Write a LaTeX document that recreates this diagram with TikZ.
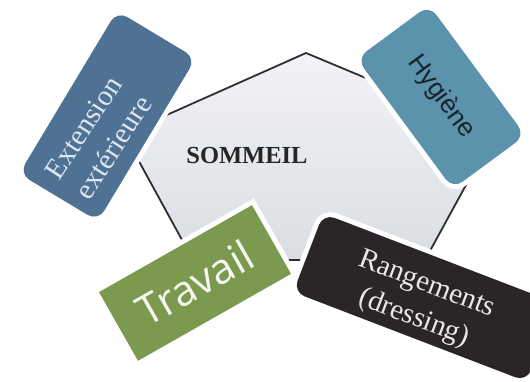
\documentclass[tikz,border=0pt]{standalone}
\usepackage{fontspec}
\setmainfont{Liberation Serif}
\newfontfamily\hygfont{Liberation Sans}
\newfontfamily\travfont{Open Sans}
\definecolor{extblue}{RGB}{79,114,148}
\definecolor{hygblue}{RGB}{91,147,172}
\definecolor{travgreen}{RGB}{123,154,80}
\definecolor{rangdark}{RGB}{42,38,40}
\definecolor{pentedge}{RGB}{45,45,50}
\definecolor{penttop}{RGB}{242,243,245}
\definecolor{pentbot}{RGB}{218,222,227}
\definecolor{exttext}{RGB}{222,230,240}
\definecolor{hygtext}{RGB}{25,35,45}
\definecolor{travtext}{RGB}{245,248,240}
\definecolor{rangtext}{RGB}{232,232,232}
\tikzset{
  pent/.style={draw=pentedge, line width=1.8pt, line join=miter, top color=penttop, bottom color=pentbot},
  tile/.style={inner sep=0pt, outer sep=0pt, preaction={draw=white, line width=10pt}},
  rtile/.style={tile, rounded corners=12pt},
  serifbig/.style={font=\fontsize{29}{36}\selectfont, align=center}
}
\begin{document}
\begin{tikzpicture}[x=1pt,y=-1pt]
\useasboundingbox[fill=white] (0,0) rectangle (530,382);
% central pentagon
\coordinate (pT) at (306,53);
\coordinate (pR) at (495,132);
\coordinate (pBR) at (425,260);
\coordinate (pBL) at (193,260);
\coordinate (pL) at (124,134);
\draw[pent] (pT) -- (pR) -- (pBR) -- (pBL) -- (pL) -- cycle;
\node[font=\bfseries\fontsize{24.5}{28}\selectfont, text=black!85] (sommeil) at (247,156) {SOMMEIL};
% Extension exterieure
\node[rtile, fill=extblue, minimum width=190pt, minimum height=92pt, rotate=59] (ext) at (107.5,116) {};
\node[serifbig, text=exttext, rotate=57] (exttxt) at (98.5,137.5) {Extension\\extérieure};
% Hygiene
\node[rtile, fill=hygblue, minimum width=162pt, minimum height=90pt, rotate=-53.6,
      font=\hygfont\fontsize{26}{30}\selectfont, text=hygtext] (hyg) at (441,97) {Hygiène};
% Travail
\node[tile, fill=travgreen, minimum width=176pt, minimum height=79pt, rotate=29.6,
      font=\travfont\fontsize{42}{46}\selectfont, text=travtext] (trav) at (195,283) {Travail};
% Rangements
\node[rtile, fill=rangdark, minimum width=250pt, minimum height=84pt, rotate=-21] (rang) at (425,297.6) {};
\node[serifbig, text=rangtext, rotate=-21] (rangtxt) at (420,302) {Rangements\\(dressing)};
\end{tikzpicture}
\end{document}
